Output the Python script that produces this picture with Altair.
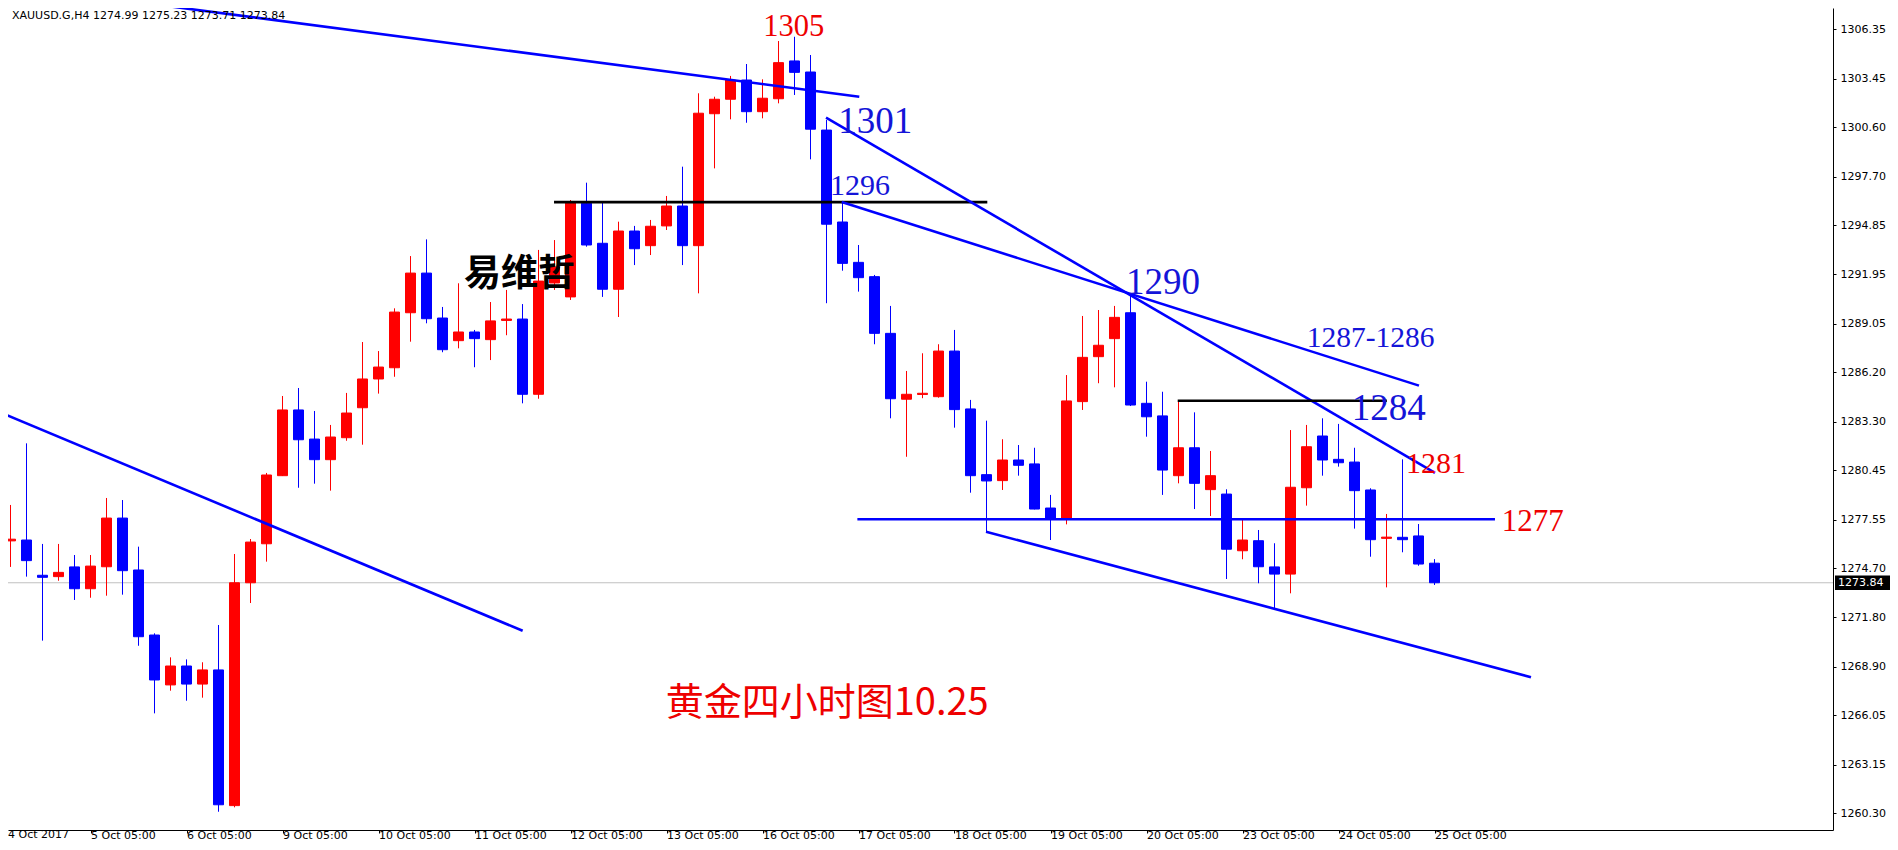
import altair as alt
import pandas as pd

# ---- candle data (XAUUSD H4), index 0 = first visible bar ----
opens = [1276.30, 1276.35, 1274.28, 1274.20, 1274.77, 1273.49, 1274.78, 1277.64, 1274.59, 1270.77,
         1267.84, 1268.95, 1267.89, 1268.72, 1260.75, 1273.84, 1276.13, 1280.13, 1283.99, 1282.28,
         1281.07, 1282.36, 1284.12, 1285.81, 1286.47, 1289.70, 1292.03, 1289.39, 1288.06, 1288.57,
         1288.12, 1289.25, 1289.33, 1284.91, 1291.45, 1290.63, 1296.13, 1293.78, 1291.08, 1294.50,
         1293.64, 1294.80, 1295.97, 1293.64, 1301.39, 1302.24, 1303.37, 1301.51, 1302.27, 1304.49,
         1303.84, 1300.43, 1295.03, 1292.66, 1291.82, 1288.49, 1284.62, 1284.90, 1284.77, 1287.45,
         1284.05, 1280.19, 1279.84, 1281.05, 1280.82, 1278.23, 1277.59, 1284.48, 1287.12, 1288.18,
         1289.70, 1284.38, 1283.64, 1280.13, 1281.77, 1279.31, 1279.05, 1275.72, 1276.31, 1274.77,
         1274.35, 1279.42, 1282.46, 1281.09, 1280.93, 1279.29, 1276.45, 1276.51, 1276.59, 1274.99]
highs = [1278.41, 1282.03, 1276.12, 1276.12, 1275.47, 1275.47, 1278.82, 1278.70, 1275.96, 1270.87,
         1269.46, 1269.34, 1269.17, 1271.36, 1275.53, 1276.41, 1280.29, 1284.81, 1285.28, 1283.93,
         1283.11, 1284.99, 1287.98, 1287.45, 1289.96, 1293.03, 1294.01, 1290.04, 1291.43, 1288.69,
         1290.33, 1291.04, 1290.21, 1293.39, 1293.97, 1296.32, 1297.34, 1296.15, 1295.05, 1294.80,
         1295.15, 1296.56, 1298.28, 1302.59, 1302.39, 1303.61, 1304.31, 1303.41, 1305.66, 1305.91,
         1304.84, 1301.02, 1296.16, 1293.68, 1291.92, 1290.10, 1286.28, 1287.32, 1287.85, 1288.69,
         1284.58, 1283.36, 1282.27, 1281.93, 1281.77, 1279.00, 1286.04, 1289.51, 1289.86, 1290.10,
         1290.80, 1285.65, 1285.06, 1284.52, 1283.85, 1281.58, 1279.33, 1277.53, 1276.94, 1276.16,
         1282.81, 1283.11, 1283.50, 1283.17, 1281.77, 1279.39, 1277.88, 1281.09, 1277.29, 1275.23]
lows = [1274.77, 1274.20, 1270.44, 1273.96, 1272.83, 1272.96, 1273.08, 1273.14, 1270.14, 1266.17,
        1267.50, 1266.91, 1267.09, 1260.39, 1260.65, 1272.65, 1275.08, 1280.11, 1279.42, 1279.66,
        1279.25, 1282.18, 1281.95, 1284.95, 1285.94, 1288.00, 1289.08, 1287.38, 1287.61, 1286.50,
        1286.92, 1288.38, 1284.38, 1284.65, 1291.04, 1290.45, 1293.58, 1290.63, 1289.45, 1292.50,
        1293.09, 1294.56, 1292.50, 1290.84, 1298.18, 1301.06, 1300.86, 1301.12, 1302.00, 1302.49,
        1298.71, 1290.26, 1292.17, 1290.94, 1287.85, 1283.50, 1281.24, 1284.68, 1284.71, 1282.95,
        1279.13, 1276.82, 1279.29, 1280.13, 1278.15, 1276.35, 1277.27, 1283.99, 1285.56, 1285.32,
        1284.22, 1282.42, 1279.00, 1279.68, 1278.17, 1277.76, 1274.06, 1275.22, 1273.81, 1272.34,
        1273.22, 1278.37, 1280.13, 1280.66, 1277.02, 1275.37, 1273.57, 1275.63, 1274.84, 1273.71]
closes = [1276.40, 1275.14, 1274.16, 1274.45, 1273.49, 1274.82, 1277.64, 1274.55, 1270.67, 1268.13,
          1268.95, 1267.89, 1268.72, 1260.80, 1273.84, 1276.23, 1280.17, 1283.99, 1282.24, 1281.07,
          1282.40, 1283.81, 1285.81, 1286.51, 1289.74, 1292.03, 1289.35, 1287.53, 1288.57, 1288.18,
          1289.22, 1289.33, 1284.91, 1291.56, 1292.39, 1296.15, 1293.68, 1291.08, 1294.50, 1293.46,
          1294.78, 1295.97, 1293.64, 1301.42, 1302.24, 1303.37, 1301.51, 1302.30, 1304.39, 1303.82,
          1300.48, 1294.90, 1292.60, 1291.76, 1288.49, 1284.65, 1284.91, 1284.97, 1287.45, 1284.01,
          1280.13, 1279.82, 1281.05, 1280.74, 1278.17, 1277.59, 1284.52, 1287.08, 1287.79, 1289.43,
          1284.28, 1283.59, 1280.46, 1281.77, 1279.68, 1280.13, 1275.81, 1276.35, 1274.78, 1274.35,
          1279.45, 1281.83, 1281.05, 1280.89, 1279.25, 1276.37, 1276.52, 1276.37, 1274.94, 1273.84]

# time-axis labels (one per trading day, bar index = -1 + 6*i)
date_labels = ["4 Oct 2017", "5 Oct 05:00", "6 Oct 05:00", "9 Oct 05:00", "10 Oct 05:00",
               "11 Oct 05:00", "12 Oct 05:00", "13 Oct 05:00", "16 Oct 05:00", "17 Oct 05:00",
               "18 Oct 05:00", "19 Oct 05:00", "20 Oct 05:00", "23 Oct 05:00", "24 Oct 05:00",
               "25 Oct 05:00"]
price_ticks = [1306.35, 1303.45, 1300.60, 1297.70, 1294.85, 1291.95, 1289.05, 1286.20, 1283.30,
               1280.45, 1277.55, 1274.70, 1271.80, 1268.90, 1266.05, 1263.15, 1260.30]
last_price = 1273.84

# ---- drawn lines: (bar1, price1, bar2, price2, colour) ----
line_k1 = [7.16, -0.66, 33.97, 50.97, 51.95, 72.95, 52.93, 60.97]
line_p1 = [1308.04, 1283.85, 1296.20, 1301.16, 1296.20, 1284.53, 1277.57, 1276.84]
line_k2 = [53.05, 32.01, 61.05, 89.03, 88.03, 86.02, 92.78, 95.03]
line_p2 = [1302.39, 1271.02, 1296.20, 1280.30, 1285.42, 1284.53, 1277.57, 1268.29]
line_col = ["#0000ff", "#0000ff", "#000000", "#0000ff", "#0000ff", "#000000", "#0000ff", "#0000ff"]

# ---- price annotations ----
note_text = ["1305", "1301", "1296", "1290", "1287-1286", "1284", "1281", "1277"]
note_k = [47.05, 51.74, 51.22, 69.72, 81.01, 83.83, 87.22, 93.20]
note_p = [1305.95, 1300.24, 1296.62, 1290.80, 1287.71, 1283.40, 1280.27, 1276.88]
note_size = [30.5, 37, 30, 37, 29.5, 37, 30, 31]
note_col = ["#ee0000", "#1414d8", "#1414d8", "#1414d8", "#1414d8", "#1414d8", "#ee0000", "#ee0000"]

W, H = 1825, 822
X_DOM = [-0.15625, 113.90625]
Y_DOM = [1259.318, 1307.600]

df = pd.DataFrame({"k": list(range(len(opens))), "open": opens, "high": highs,
                   "low": lows, "close": closes})
df["col"] = ["#ff0000" if c >= o else "#0000ff" for o, c in zip(opens, closes)]
df["xl"] = df["k"] - 0.3125
df["xr"] = df["k"] + 0.3125

xs = alt.Scale(domain=X_DOM, nice=False, zero=False)
ys = alt.Scale(domain=Y_DOM, nice=False, zero=False)

label_arr = "[" + ",".join("'" + s + "'" for s in date_labels) + "]"
x_axis = alt.Axis(values=[-1 + 6 * i for i in range(1, len(date_labels))],
                  labelExpr=label_arr + "[round((datum.value+1)/6)]",
                  title=None, grid=False, tickSize=3, tickColor="#000", domainColor="#000",
                  labelAlign="left", labelBaseline="alphabetic", labelPadding=5,
                  labelFont="DejaVu Sans", labelFontSize=11, labelColor="#000",
                  labelOverlap=False, labelFlush=False)
y_axis = alt.Axis(orient="right", values=price_ticks, format=".2f", title=None, grid=False,
                  tickSize=3, tickColor="#000", domainColor="#000", labelPadding=4,
                  labelFont="DejaVu Sans", labelFontSize=11, labelColor="#000",
                  labelOverlap=False, labelFlush=False)


def X(field):
    return alt.X(field, scale=xs, axis=x_axis)


def Y(field):
    return alt.Y(field, scale=ys, axis=y_axis)


cur_df = pd.DataFrame({"p": [last_price], "lo": [last_price - 0.42], "hi": [last_price + 0.42],
                       "t": [f"{last_price:.2f}"]})

cur_rule = alt.Chart(cur_df).mark_rule(color="#c0c0c0", strokeWidth=1).encode(y=Y("p:Q"))

wicks = alt.Chart(df).mark_rule(strokeWidth=1).encode(
    x=X("k:Q"), y=Y("low:Q"), y2="high:Q",
    color=alt.Color("col:N", scale=None),
)

bodies = alt.Chart(df).mark_rect(strokeWidth=1).encode(
    x=X("xl:Q"), x2="xr:Q", y=Y("open:Q"), y2="close:Q",
    color=alt.Color("col:N", scale=None),
    stroke=alt.Stroke("col:N", scale=None),
)

lines_df = pd.DataFrame({"k1": line_k1, "p1": line_p1, "k2": line_k2, "p2": line_p2,
                         "col": line_col})
lines = alt.Chart(lines_df).mark_rule(strokeWidth=2.6, clip=True).encode(
    x=X("k1:Q"), x2="k2:Q", y=Y("p1:Q"), y2="p2:Q",
    color=alt.Color("col:N", scale=None),
)

notes_df = pd.DataFrame({"t": note_text, "k": note_k, "p": note_p, "s": note_size, "col": note_col})
notes = alt.Chart(notes_df).mark_text(align="left", baseline="alphabetic",
                                      font="Liberation Serif").encode(
    x=X("k:Q"), y=Y("p:Q"), text="t:N",
    size=alt.Size("s:Q", scale=None),
    color=alt.Color("col:N", scale=None),
)

author_df = pd.DataFrame({"t": ["易维哲"], "k": [28.34], "p": [1291.92]})
author = alt.Chart(author_df).mark_text(align="left", baseline="middle", fontSize=37,
                                        fontWeight="bold", font="Noto Sans CJK SC",
                                        color="#000000").encode(
    x=X("k:Q"), y=Y("p:Q"), text="t:N",
)

title_df = pd.DataFrame({"t": ["黄金四小时图10.25"], "k": [40.95], "p": [1266.72]})
title_txt = alt.Chart(title_df).mark_text(align="left", baseline="middle", fontSize=38,
                                          font="Noto Sans CJK SC", fontWeight="normal",
                                          color="#ee0000").encode(
    x=X("k:Q"), y=Y("p:Q"), text="t:N",
)

header_df = pd.DataFrame({"t": ["XAUUSD.G,H4  1274.99 1275.23 1273.71 1273.84"]})
header = alt.Chart(header_df).mark_text(align="left", baseline="top", fontSize=11,
                                        font="DejaVu Sans", color="#000000").encode(
    x=alt.value(4), y=alt.value(2), text="t:N",
)

# first date label sits at the left edge of the time axis
first_lbl = pd.DataFrame({"t": [date_labels[0]], "k": [X_DOM[0]]})
first_label = alt.Chart(first_lbl).mark_text(align="left", baseline="alphabetic", fontSize=11,
                                             font="DejaVu Sans", color="#000000").encode(
    x=X("k:Q"), y=alt.value(H + 8), text="t:N",
)

price_box = alt.Chart(cur_df).mark_rect(color="#000000").encode(
    x=alt.value(W + 2), x2=alt.value(W + 57), y=Y("lo:Q"), y2="hi:Q",
)
price_txt = alt.Chart(cur_df).mark_text(align="left", baseline="middle", fontSize=11,
                                        font="DejaVu Sans", color="#ffffff").encode(
    x=alt.value(W + 5), y=Y("p:Q"), text="t:N",
)

chart = alt.layer(
    cur_rule, wicks, bodies, lines, notes, author, title_txt, header, first_label,
    price_box, price_txt,
).properties(
    width=W, height=H,
    autosize=alt.AutoSizeParams(type="none"),
    padding={"left": 0, "top": 0, "right": 57, "bottom": 12},
    background="#ffffff",
).configure_view(strokeWidth=0)

chart.save("out.html", embed_options={"renderer": "svg", "actions": False})
